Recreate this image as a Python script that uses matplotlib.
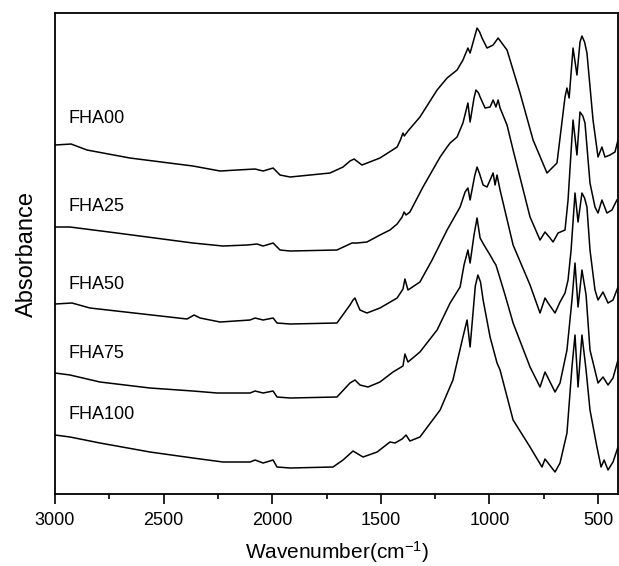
import numpy as np
import matplotlib
matplotlib.use("Agg")
import matplotlib.pyplot as plt
from matplotlib.ticker import MultipleLocator

plt.rcParams['font.family'] = ['Liberation Sans', 'DejaVu Sans']
plt.rcParams['mathtext.fontset'] = 'custom'
plt.rcParams['mathtext.rm'] = 'Liberation Sans'
plt.rcParams['mathtext.it'] = 'Liberation Sans'

# FTIR spectra (wavenumber in cm-1, absorbance in arbitrary units, offset stacked)
wn_00 = [3000, 2926, 2853, 2655, 2365, 2240, 2162, 2079, 2042, 1996, 1964, 1918, 1872, 1734, 1674,
         1642, 1623, 1587, 1504, 1425, 1410, 1398, 1392, 1375, 1320, 1241, 1195, 1149, 1122, 1099,
         1089, 1071, 1057, 1045, 1034, 1011, 983, 960, 919, 859, 799, 735, 689, 652, 643, 633, 615,
         597, 583, 574, 562, 551, 523, 500, 482, 468, 445, 422, 408]
abs_00 = [349, 350, 344, 336, 328, 323, 324, 325, 323, 326, 319, 317, 318, 321, 327,
          333, 335, 329, 336, 347, 354, 361, 358, 363, 377, 404, 416, 424, 434, 446,
          441, 455, 466, 462, 456, 446, 449, 456, 444, 401, 354, 321, 331, 397, 406, 396, 446,
          419, 452, 458, 452, 441, 374, 337, 347, 337, 339, 342, 354]

wn_25 = [3000, 2931, 2715, 2365, 2227, 2116, 2070, 2042, 1996, 1964, 1918, 1702, 1633, 1610, 1564,
         1504, 1458, 1425, 1402, 1393, 1384, 1366, 1306, 1227, 1195, 1181, 1149, 1122, 1099, 1089,
         1071, 1062, 1050, 1043, 1020, 997, 983, 970, 960, 951, 919, 891, 813, 767, 744, 721, 707,
         684, 652, 638, 615, 597, 583, 570, 560, 537, 514, 500, 482, 459, 436, 413]
abs_25 = [267, 267, 261, 251, 248, 249, 250, 248, 251, 244, 243, 244, 251, 251, 252,
          259, 264, 270, 277, 282, 279, 282, 307, 337, 347, 351, 357, 371, 391, 372,
          396, 404, 401, 397, 386, 387, 394, 387, 394, 386, 369, 344, 277, 254, 262, 256, 252,
          261, 264, 294, 374, 339, 382, 378, 371, 311, 287, 281, 294, 281, 284, 294]

wn_50 = [3000, 2922, 2839, 2392, 2360, 2332, 2240, 2102, 2079, 2042, 1996, 1978, 1918, 1702, 1642,
         1628, 1619, 1610, 1596, 1564, 1504, 1425, 1398, 1389, 1375, 1320, 1264, 1195, 1135, 1112,
         1099, 1089, 1068, 1057, 1045, 1029, 1011, 983, 974, 965, 951, 891, 813, 767, 744, 730, 698,
         675, 652, 638, 624, 606, 592, 574, 562, 551, 537, 514, 500, 477, 454, 431, 408]
abs_50 = [190, 191, 186, 175, 179, 176, 172, 174, 176, 174, 176, 171, 170, 171, 189,
          194, 196, 191, 184, 181, 186, 196, 205, 215, 204, 212, 234, 264, 287, 302,
          306, 294, 318, 327, 320, 309, 307, 321, 309, 319, 304, 249, 209, 181, 196, 191, 181,
          192, 201, 214, 244, 301, 272, 301, 296, 287, 244, 204, 194, 202, 191, 194, 207]

wn_75 = [3000, 2931, 2793, 2563, 2365, 2254, 2102, 2079, 2042, 1996, 1978, 1918, 1702, 1642, 1619,
         1596, 1559, 1504, 1444, 1398, 1389, 1375, 1320, 1241, 1181, 1135, 1117, 1099, 1089, 1071,
         1057, 1043, 1025, 997, 979, 970, 960, 928, 891, 813, 767, 744, 730, 698, 675, 643, 620,
         606, 592, 574, 555, 537, 500, 477, 454, 431, 408]
abs_75 = [121, 119, 112, 106, 103, 101, 101, 103, 101, 103, 97, 96, 97, 111, 114,
          109, 107, 112, 122, 128, 140, 132, 142, 164, 191, 207, 229, 244, 231, 259,
          276, 256, 249, 239, 232, 229, 222, 199, 171, 127, 107, 122, 116, 102, 111, 144, 194,
          231, 187, 224, 199, 144, 111, 117, 109, 116, 134]

wn_100 = [3000, 2931, 2793, 2563, 2365, 2227, 2102, 2079, 2042, 1996, 1978, 1918, 1720, 1674, 1628,
          1582, 1517, 1458, 1435, 1402, 1384, 1366, 1320, 1227, 1168, 1122, 1103, 1089, 1065, 1053,
          1041, 1029, 997, 965, 951, 891, 813, 758, 744, 730, 698, 675, 643, 620, 606, 592, 574,
          555, 537, 505, 486, 472, 454, 431, 408]
abs_100 = [59, 57, 51, 42, 36, 32, 32, 34, 31, 34, 27, 26, 27, 34, 43,
           37, 42, 52, 51, 55, 59, 53, 57, 84, 114, 157, 174, 147, 208, 219,
           212, 194, 157, 131, 124, 74, 47, 27, 35, 31, 22, 31, 61, 127, 159, 107, 159,
           124, 84, 47, 27, 34, 24, 32, 47]

labels = ['FHA00', 'FHA25', 'FHA50', 'FHA75', 'FHA100']
label_y = [376, 288, 210, 141, 80]

series = [(wn_00, abs_00), (wn_25, abs_25), (wn_50, abs_50), (wn_75, abs_75), (wn_100, abs_100)]

fig = plt.figure(figsize=(6.19, 5.66), dpi=100)
ax = fig.add_axes([0.0889, 0.1272, 0.9095, 0.8498])

for (wn, a), name, ly in zip(series, labels, label_y):
    ax.plot(wn, a, color='black', lw=1.1, solid_joinstyle='round')
    ax.text(2940, ly, name, fontsize=13, ha='left', va='center')

ax.set_xlim(3000, 408)
ax.set_ylim(0, 481)
ax.xaxis.set_major_locator(MultipleLocator(500))
ax.xaxis.set_minor_locator(MultipleLocator(250))
ax.set_yticks([])
ax.tick_params(axis='x', which='major', direction='out', length=7, width=1.2, labelsize=13, pad=6)
ax.tick_params(axis='x', which='minor', direction='out', length=3.5, width=1.2)
for s in ax.spines.values():
    s.set_linewidth(1.3)

ax.set_xlabel('Wavenumber(cm$^{-1}$)', fontsize=15, labelpad=7)
ax.set_ylabel('Absorbance', fontsize=17, labelpad=12)

fig.savefig('out.png', dpi=100)
